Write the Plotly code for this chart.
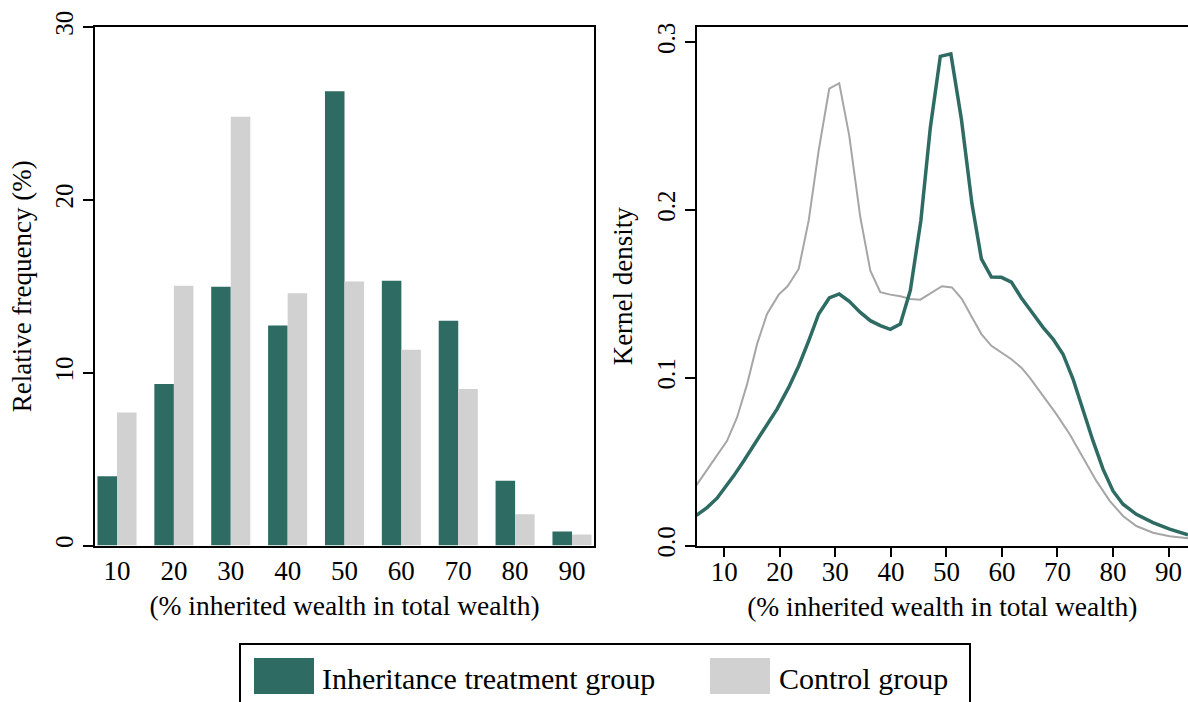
import plotly.graph_objects as go

# ---------------- data ----------------
bins = [10, 20, 30, 40, 50, 60, 70, 80, 90]
treat_freq = [4.0, 9.35, 14.97, 12.73, 26.28, 15.32, 13.0, 3.74, 0.81]
ctrl_freq = [7.7, 15.03, 24.8, 14.6, 15.28, 11.33, 9.06, 1.81, 0.64]

ctrl_dens_x = [5.0, 8.4, 10.5, 12.3, 14.1, 15.9, 17.7, 19.8, 21.4, 23.4, 25.2, 27.0,
               28.9, 30.7, 32.5, 34.5, 36.3, 38.1, 39.9, 41.7, 43.5, 45.3, 47.1, 49.2,
               51.0, 52.8, 54.6, 56.3, 58.1, 59.9, 61.7, 63.5, 65.0, 67.4, 69.8, 72.2,
               74.6, 77.0, 79.4, 81.8, 84.2, 87.2, 90.2, 93.5]
ctrl_dens_y = [0.036, 0.0524, 0.0624, 0.0763, 0.096, 0.120, 0.138, 0.1495, 0.1545, 0.1648,
               0.1936, 0.2354, 0.2722, 0.2755, 0.2443, 0.1956, 0.1638, 0.151, 0.1495,
               0.1485, 0.1469, 0.1465, 0.150, 0.1545, 0.1538, 0.1469, 0.136, 0.126, 0.119,
               0.115, 0.111, 0.106, 0.100, 0.0892, 0.0783, 0.0663, 0.0524, 0.0385, 0.0266,
               0.0176, 0.0116, 0.0076, 0.0055, 0.0043]

treat_dens_x = [5.0, 6.9, 8.7, 10.2, 11.7, 13.5, 15.3, 17.1, 19.5, 21.6, 23.4, 25.2, 27.0,
                28.9, 30.7, 32.5, 34.5, 36.3, 38.1, 39.9, 41.7, 43.5, 45.4, 47.1, 48.9,
                50.8, 52.7, 54.6, 56.3, 58.1, 59.9, 61.7, 63.5, 65.4, 67.4, 69.2, 71.0,
                72.8, 74.6, 76.4, 78.2, 80.0, 81.8, 84.2, 87.2, 90.2, 93.5]
treat_dens_y = [0.018, 0.0226, 0.0282, 0.0345, 0.0415, 0.0504, 0.0598, 0.0689, 0.0813,
                0.0942, 0.107, 0.122, 0.138, 0.1475, 0.1499, 0.1455, 0.1389, 0.134, 0.131,
                0.1288, 0.132, 0.152, 0.1936, 0.249, 0.2915, 0.293, 0.254, 0.2036, 0.1708,
                0.160, 0.1598, 0.157, 0.1475, 0.139, 0.130, 0.123, 0.114, 0.0992, 0.0802,
                0.0623, 0.0455, 0.0325, 0.0246, 0.0186, 0.0136, 0.0097, 0.0063]

density_ticks = [0.0, 0.1, 0.2, 0.3]
freq_ticks = [0, 10, 20, 30]

legend_labels = ["Inheritance treatment group", "Control group"]

# ---------------- style ----------------
GREEN = "#2E6B63"
GREY_BAR = "#D1D1D1"
GREY_LINE = "#A6A6A6"
FONT = "Liberation Serif"
W, H = 1188, 702

def px_x(p):
    return p / W

def px_y(p):
    return 1 - p / H

fig = go.Figure()

fig.add_trace(go.Bar(x=bins, y=treat_freq, name=legend_labels[0], marker_color=GREEN,
                     marker_line_width=0, xaxis="x", yaxis="y", showlegend=False))
fig.add_trace(go.Bar(x=bins, y=ctrl_freq, name=legend_labels[1], marker_color=GREY_BAR,
                     marker_line_width=0, xaxis="x", yaxis="y", showlegend=False))

fig.add_trace(go.Scatter(x=ctrl_dens_x, y=ctrl_dens_y, mode="lines", name=legend_labels[1],
                         line=dict(color=GREY_LINE, width=2), xaxis="x2", yaxis="y2",
                         showlegend=False))
fig.add_trace(go.Scatter(x=treat_dens_x, y=treat_dens_y, mode="lines", name=legend_labels[0],
                         line=dict(color=GREEN, width=3.5), xaxis="x2", yaxis="y2",
                         showlegend=False))

ydom = [px_y(545.5), px_y(27)]

axis_common = dict(showline=True, linecolor="black", linewidth=2, showgrid=False,
                   zeroline=False, automargin=False)

fig.update_layout(
    width=W, height=H,
    margin=dict(l=0, r=0, t=0, b=0, autoexpand=False),
    paper_bgcolor="white", plot_bgcolor="white",
    barmode="group", bargap=0.313, bargroupgap=0,
    font=dict(family=FONT, color="black", size=24),
    xaxis=dict(domain=[px_x(95), px_x(594)], range=[6.13, 93.87], tickvals=bins,
               ticks="", ticklabelstandoff=0, mirror=True, anchor="y",
               tickfont=dict(size=27),
               title=dict(text="(% inherited wealth in total wealth)", standoff=11,
                          font=dict(size=27.5)),
               **axis_common),
    yaxis=dict(domain=ydom, range=[0, 30], tickvals=freq_ticks, ticks="outside",
               ticklen=10, tickwidth=2, tickcolor="black", tickangle=-90, mirror=True,
               anchor="x", tickfont=dict(size=25),
               title=dict(text="Relative frequency (%)", standoff=12,
                          font=dict(size=27)),
               **axis_common),
    xaxis2=dict(domain=[px_x(696.5), 1.0], range=[5, 93.5], tickvals=bins,
                ticks="outside", ticklen=9, tickwidth=2, tickcolor="black",
                ticklabelstandoff=-8,
                mirror=True, anchor="y2", tickfont=dict(size=27),
                title=dict(text="(% inherited wealth in total wealth)", standoff=11,
                           font=dict(size=27.5)),
                **axis_common),
    yaxis2=dict(domain=ydom, range=[0, 0.309], tickvals=density_ticks, tickformat=".1f",
                ticks="outside", ticklen=10, tickwidth=2, tickcolor="black",
                tickangle=-90, mirror=False, anchor="x2", tickfont=dict(size=25),
                title=dict(text="Kernel density", standoff=12, font=dict(size=27)),
                **axis_common),
)

# ---------------- legend (drawn box) ----------------
shapes = [
    dict(type="rect", xref="paper", yref="paper", x0=px_x(240), x1=px_x(970),
         y0=px_y(760), y1=px_y(644), line=dict(color="black", width=2),
         fillcolor="rgba(0,0,0,0)"),
    dict(type="rect", xref="paper", yref="paper", x0=px_x(254), x1=px_x(314),
         y0=px_y(694), y1=px_y(658), line=dict(width=0), fillcolor=GREEN),
    dict(type="rect", xref="paper", yref="paper", x0=px_x(710), x1=px_x(770),
         y0=px_y(694), y1=px_y(658), line=dict(width=0), fillcolor=GREY_BAR),
]
fig.update_layout(shapes=shapes)
fig.add_annotation(x=px_x(320), y=px_y(678), xref="paper", yref="paper", xanchor="left",
                   yanchor="middle", text=legend_labels[0], showarrow=False,
                   font=dict(size=30, family=FONT))
fig.add_annotation(x=px_x(777), y=px_y(678), xref="paper", yref="paper", xanchor="left",
                   yanchor="middle", text=legend_labels[1], showarrow=False,
                   font=dict(size=30, family=FONT))

fig.write_html("out.html", config={"displayModeBar": False},
               post_script="document.body.style.margin='0';document.body.style.overflow='hidden';")
